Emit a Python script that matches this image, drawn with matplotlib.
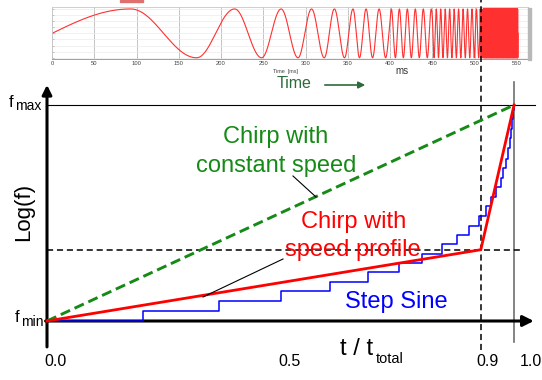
import numpy as np
import matplotlib
matplotlib.use("Agg")
import matplotlib.pyplot as plt
from matplotlib.patches import Rectangle, FancyArrowPatch

plt.rcParams['font.family'] = ['Liberation Sans', 'DejaVu Sans']

W, H = 542, 380

# --- data (normalised: t / t_total, log f between f_min=0 and f_max=1) ---
t_end = 0.969
const_t = [0.0, t_end]
const_f = [0.0, 1.0]

profile_t = [0.0, 0.9, t_end]
profile_f = [0.0, 0.33, 1.0]

step_t = [0.0, 0.199, 0.357, 0.485, 0.587, 0.666, 0.730, 0.779, 0.819, 0.850,
          0.876, 0.896, 0.911, 0.921, 0.932, 0.941, 0.947, 0.952, 0.957,
          0.960, 0.963, 0.965, 0.967, 0.968]
step_f = [0.0, 0.046, 0.091, 0.137, 0.181, 0.225, 0.268, 0.31, 0.356, 0.398,
          0.442, 0.486, 0.532, 0.576, 0.62, 0.662, 0.71, 0.752, 0.8, 0.845,
          0.89, 0.935, 0.975, 1.0]

break_f = 0.33
xtick_labels = ["0.0", "0.5", "0.9", "1.0"]

# time signal: accumulated cycles read from peaks/troughs of the top trace
sig_ms = [0, 93, 171, 216, 248, 271, 291, 307, 322, 334, 346, 356,
          400, 450, 506, 510, 551]
sig_cycles = [0, 0.25, 0.75, 1.25, 1.75, 2.25, 2.75, 3.25, 3.75, 4.25, 4.75,
              5.25, 8.1, 13.4, 24.0, 26.0, 160.0]
ms_ticks = list(range(0, 551, 50))


def fig_xy(px, py):
    return px / W, 1 - py / H


fig = plt.figure(figsize=(W / 100, H / 100), dpi=100)

# ---------------- top inset: chirp time signal ----------------
ax_in = fig.add_axes([52 / W, 1 - 59 / H, 476 / W, 52 / H])
tt = np.linspace(0, sig_ms[-1], 40000)
ph = np.interp(tt, sig_ms, sig_cycles)
ax_in.plot(tt, np.sin(2 * np.pi * ph), color="#ff3030", lw=0.8)
ax_in.set_xlim(0, 563)
ax_in.set_ylim(-1.05, 1.08)
ax_in.set_xticks(ms_ticks)
ax_in.set_xticklabels([str(v) for v in ms_ticks], fontsize=4.2, color="#444444")
ax_in.set_yticks(np.linspace(-1, 1, 9))
ax_in.set_yticklabels([])
ax_in.tick_params(axis="both", length=1.5, width=0.4, color="#999999", pad=1.5,
                  direction="in")
ax_in.grid(axis="x", color="#c4c4c4", lw=0.7)
ax_in.grid(axis="y", color="#ececec", lw=0.5)
for s in ax_in.spines.values():
    s.set_color("#c8c8c8")
    s.set_linewidth(0.6)
ax_in.spines["bottom"].set_color("#909090")
ax_in.text(0.49, -0.2, "Time  [ms]", transform=ax_in.transAxes, fontsize=4,
           ha="center", va="top", color="#444444")

fig.patches.append(Rectangle(fig_xy(528, 60), 3 / W, 52 / H, transform=fig.transFigure,
                             color="#b8b8b8", zorder=0))
fig.patches.append(Rectangle(fig_xy(120, 2), 23 / W, 2 / H, transform=fig.transFigure,
                             color="#e07070", zorder=0))

fig.text(*fig_xy(402, 71), "ms", fontsize=7, ha="center", va="center", color="#333333")
fig.text(*fig_xy(294, 84), "Time", fontsize=11.5, ha="center", va="center",
         color="#2e6b3c")
fig.add_artist(FancyArrowPatch(
    fig_xy(322, 85), fig_xy(368, 85), transform=fig.transFigure,
    arrowstyle="-|>", mutation_scale=10, color="#2e6b3c", lw=1.2))

# ---------------- main diagram ----------------
ax = fig.add_axes([0, 0, 1, 1])
ax.set_zorder(3)
ax.patch.set_alpha(0)
ax.set_xlim(-47 / 482, 495 / 482)
ax.set_ylim(-59 / 216, 321 / 216)
ax.axis("off")

# axes arrows
ax.annotate("", xy=(0, 1.093), xytext=(0, -0.12),
            arrowprops=dict(arrowstyle="-|>", lw=2.2, color="black",
                            mutation_scale=14, shrinkA=0, shrinkB=0))
ax.annotate("", xy=(1.01, 0), xytext=(-0.003, 0),
            arrowprops=dict(arrowstyle="-|>", lw=2.2, color="black",
                            mutation_scale=16, shrinkA=0, shrinkB=0))

# reference lines
ax.plot([0, 1.012], [1, 1], color="black", lw=0.8)
ax.plot([t_end, t_end], [-0.097, 1.107], color="#707070", lw=1.2)
ax.plot([0.9, 0.9], [-0.134, 1.49], color="black", lw=1.1, ls=(0, (4, 2.5)))
ax.plot([0, 0.988], [break_f, break_f], color="black", lw=1.1, ls=(0, (4, 2.5)))

# sweeps
ax.step(step_t + [t_end], step_f + [1.0], where="post", color="#0000ff", lw=1.1,
        zorder=4)
ax.plot(const_t, const_f, color="#168a16", lw=2.1, ls=(0, (3.5, 1.7)), zorder=5)
ax.plot(profile_t, profile_f, color="#ff0000", lw=2.0, zorder=6)

# pointer lines
px = lambda x: (x - 47) / 482
py = lambda y: (321 - y) / 216
ax.plot([px(293), px(316)], [py(176), py(197)], color="black", lw=0.8, zorder=7)
ax.plot([px(283), px(203)], [py(259), py(297)], color="black", lw=0.8, zorder=7)

# texts
ax.text(px(276), py(143), "Chirp with", color="#168a16", fontsize=17,
        ha="center", va="baseline")
ax.text(px(276), py(172), "constant speed", color="#168a16", fontsize=17,
        ha="center", va="baseline")
ax.text(px(354), py(228), "Chirp with", color="#ff0000", fontsize=17,
        ha="center", va="baseline", zorder=8)
ax.text(px(353), py(256), "speed profile", color="#ff0000", fontsize=17,
        ha="center", va="baseline", zorder=8)
ax.text(px(396), py(308), "Step Sine", color="#0000ff", fontsize=17,
        ha="center", va="baseline")

ax.text(px(24), py(212), "Log(f)", fontsize=16, rotation=90, ha="center",
        va="center")
ax.text(px(373), py(355), "t / t", fontsize=17, ha="right", va="baseline")
ax.text(px(376), py(363), "total", fontsize=10.5, ha="left", va="baseline")

ax.text(px(9), py(107), "f", fontsize=12, ha="left", va="baseline")
ax.text(px(15), py(110), "max", fontsize=10, ha="left", va="baseline")
ax.text(px(15), py(322), "f", fontsize=12, ha="left", va="baseline")
ax.text(px(21), py(326), "min", fontsize=10, ha="left", va="baseline")

tick_px = [56, 290, 488, 531]
for xp, lab in zip(tick_px, xtick_labels):
    ax.text(px(xp), py(366), lab, fontsize=11.5, ha="center", va="baseline")

fig.savefig("out.png", dpi=100)
